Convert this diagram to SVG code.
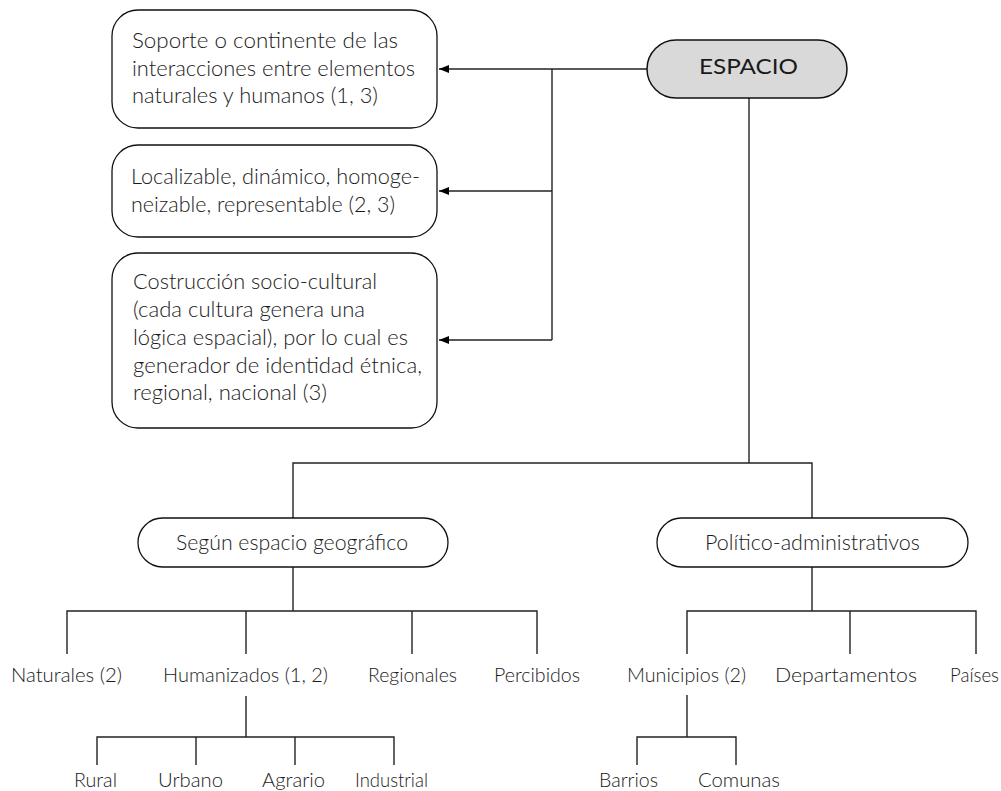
<svg xmlns="http://www.w3.org/2000/svg" width="1001" height="791" viewBox="0 0 1001 791">
  <style>
    text { font-family: "Lato", "Liberation Sans", sans-serif; font-weight: 300; font-size: 21px; fill: #1a1a1a; }
    .lbl { font-size: 20px; }
    .box { fill: #ffffff; stroke: #111111; stroke-width: 1.3; }
    .root { fill: #d9d9d9; stroke: #111111; stroke-width: 1.5; }
    .link { fill: none; stroke: #222222; stroke-width: 1.4; }
  </style>
  <defs>
    <marker id="arrow" viewBox="0 0 10 8" refX="10" refY="4" markerWidth="10" markerHeight="8" markerUnits="userSpaceOnUse" orient="auto">
      <path d="M0,0 L10,4 L0,8 Z" fill="#000000"/>
    </marker>
  </defs>

  <!-- connectors -->
  <g id="connectors">
    <!-- root to description boxes -->
    <path class="link" d="M647,69 H439" marker-end="url(#arrow)"/>
    <path class="link" d="M552,69 V340"/>
    <path class="link" d="M552,191 H439" marker-end="url(#arrow)"/>
    <path class="link" d="M552,340 H439" marker-end="url(#arrow)"/>
    <!-- root to classification -->
    <path class="link" d="M749,98 V463"/>
    <path class="link" d="M293,518 V463 H812 V518"/>
    <!-- geographic branch -->
    <path class="link" d="M293,567 V611"/>
    <path class="link" d="M67,654 V611 H537 V654"/>
    <path class="link" d="M246,611 V654"/>
    <path class="link" d="M412,611 V654"/>
    <path class="link" d="M246,696 V737"/>
    <path class="link" d="M97,765 V737 H394 V765"/>
    <path class="link" d="M196,737 V765"/>
    <path class="link" d="M295,737 V765"/>
    <!-- administrative branch -->
    <path class="link" d="M812,567 V611"/>
    <path class="link" d="M687,654 V611 H976 V654"/>
    <path class="link" d="M850,611 V654"/>
    <path class="link" d="M687,695 V737"/>
    <path class="link" d="M637,765 V737 H736 V765"/>
  </g>

  <g id="espacio">
    <rect class="root" x="647" y="40" width="200" height="58" rx="29" ry="29"/>
    <text x="699" y="74" textLength="99" lengthAdjust="spacingAndGlyphs" style="font-size:22px;font-weight:400">ESPACIO</text>
  </g>

  <g id="soporte">
    <rect class="box" x="112" y="10" width="325" height="118" rx="26" ry="26"/>
    <text x="132" y="48" textLength="266" lengthAdjust="spacingAndGlyphs">Soporte o continente de las</text>
    <text x="132" y="76" textLength="283" lengthAdjust="spacingAndGlyphs">interacciones entre elementos</text>
    <text x="132" y="103" textLength="246" lengthAdjust="spacingAndGlyphs">naturales y humanos (1, 3)</text>
  </g>

  <g id="localizable">
    <rect class="box" x="112" y="145" width="325" height="92" rx="26" ry="26"/>
    <text x="131" y="184" textLength="289" lengthAdjust="spacingAndGlyphs">Localizable, dinámico, homoge-</text>
    <text x="131" y="212" textLength="264" lengthAdjust="spacingAndGlyphs">neizable, representable (2, 3)</text>
  </g>

  <g id="construccion">
    <rect class="box" x="112" y="253" width="325" height="175" rx="26" ry="26"/>
    <text x="133" y="289" textLength="244" lengthAdjust="spacingAndGlyphs">Costrucción socio-cultural</text>
    <text x="133" y="317" textLength="232" lengthAdjust="spacingAndGlyphs">(cada cultura genera una</text>
    <text x="133" y="345" textLength="275" lengthAdjust="spacingAndGlyphs">lógica espacial), por lo cual es</text>
    <text x="133" y="373" textLength="289" lengthAdjust="spacingAndGlyphs">generador de identidad étnica,</text>
    <text x="133" y="400" textLength="194" lengthAdjust="spacingAndGlyphs">regional, nacional (3)</text>
  </g>

  <g id="segun">
    <rect class="box" x="138" y="518" width="310" height="49" rx="24.5" ry="24.5"/>
    <text x="176" y="550" textLength="232" lengthAdjust="spacingAndGlyphs">Según espacio geográfico</text>
  </g>

  <g id="politico">
    <rect class="box" x="657" y="518" width="311" height="49" rx="24.5" ry="24.5"/>
    <text x="705" y="550" textLength="215" lengthAdjust="spacingAndGlyphs">Político-administrativos</text>
  </g>

  <g id="naturales"><text class="lbl" x="11" y="682" textLength="111" lengthAdjust="spacingAndGlyphs">Naturales (2)</text></g>
  <g id="humanizados"><text class="lbl" x="163" y="682" textLength="165" lengthAdjust="spacingAndGlyphs">Humanizados (1, 2)</text></g>
  <g id="regionales"><text class="lbl" x="368" y="682" textLength="89" lengthAdjust="spacingAndGlyphs">Regionales</text></g>
  <g id="percibidos"><text class="lbl" x="494" y="682" textLength="86" lengthAdjust="spacingAndGlyphs">Percibidos</text></g>

  <g id="rural"><text class="lbl" x="74" y="787" textLength="43" lengthAdjust="spacingAndGlyphs">Rural</text></g>
  <g id="urbano"><text class="lbl" x="158" y="787" textLength="65" lengthAdjust="spacingAndGlyphs">Urbano</text></g>
  <g id="agrario"><text class="lbl" x="262" y="787" textLength="63" lengthAdjust="spacingAndGlyphs">Agrario</text></g>
  <g id="industrial"><text class="lbl" x="355" y="787" textLength="73" lengthAdjust="spacingAndGlyphs">Industrial</text></g>

  <g id="municipios"><text class="lbl" x="627" y="682" textLength="119" lengthAdjust="spacingAndGlyphs">Municipios (2)</text></g>
  <g id="departamentos"><text class="lbl" x="775" y="682" textLength="142" lengthAdjust="spacingAndGlyphs">Departamentos</text></g>
  <g id="paises"><text class="lbl" x="950" y="682" textLength="49" lengthAdjust="spacingAndGlyphs">Países</text></g>

  <g id="barrios"><text class="lbl" x="599" y="787" textLength="59" lengthAdjust="spacingAndGlyphs">Barrios</text></g>
  <g id="comunas"><text class="lbl" x="698" y="787" textLength="82" lengthAdjust="spacingAndGlyphs">Comunas</text></g>
</svg>
